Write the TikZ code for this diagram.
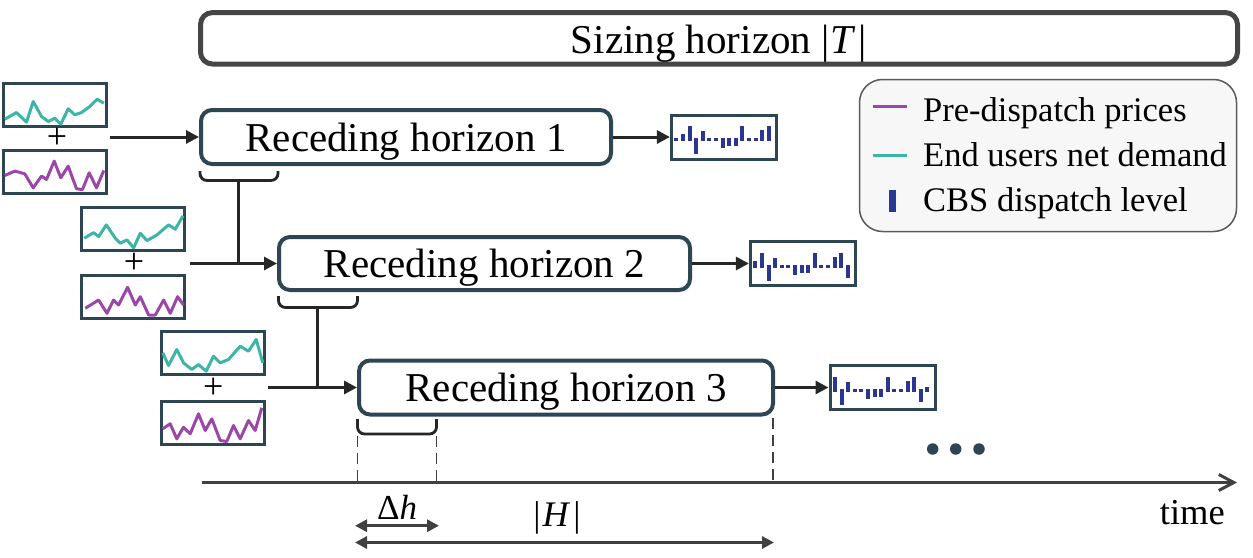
\documentclass[tikz,border=0pt]{standalone}
\usepackage{fontspec}
\setmainfont{Liberation Serif}
\usetikzlibrary{arrows.meta}
\definecolor{slate}{HTML}{2E4553}
\definecolor{cpurple}{HTML}{9B47A8}
\definecolor{cteal}{HTML}{3DB5A6}
\definecolor{cnavy}{HTML}{2B3592}
\definecolor{darkline}{HTML}{262626}
\definecolor{axisgray}{HTML}{404040}
\definecolor{framegray}{HTML}{454545}
\definecolor{legfill}{HTML}{F7F7F7}
\definecolor{legline}{HTML}{5A5A5A}
\newcommand\cbsbars[1]{%
  \foreach \v [count=\i from 0] in {#1} {
    \pgfmathsetmacro\xc{6.5+6.6*\i}
    \pgfmathsetmacro\ya{(\v)>0 ? 27.7-(\v) : 24.7}
    \pgfmathsetmacro\yb{(\v)<0 ? 24.7-(\v) : 27.7}
    \fill[cnavy] (\xc-2,\ya) rectangle (\xc+2,\yb);
  }}
\begin{document}
\begin{tikzpicture}[x=1pt,y=-1pt,
  rhbox/.style={draw=slate, line width=4pt, rounded corners=11pt, fill=white, inner sep=0pt, text height=28pt, text depth=0pt, font=\fontsize{41}{49}\selectfont},
  sizebox/.style={draw=framegray, line width=5pt, rounded corners=12pt, inner sep=0pt, text height=31pt, text depth=0pt, font=\fontsize{41}{49}\selectfont},
  chartbox/.style={draw=slate, line width=3pt, minimum width=103pt, minimum height=43pt, inner sep=0pt},
  outbox/.style={draw=slate, line width=3pt, minimum width=105pt, minimum height=44pt, inner sep=0pt},
  plussign/.style={font=\fontsize{36}{42}\selectfont, inner sep=0pt},
  conn/.style={draw=darkline, line width=3pt, -{Triangle[length=13pt,width=13pt]}},
  link/.style={draw=darkline, line width=3pt},
  bracket/.style={draw=darkline, line width=2.8pt, rounded corners=7pt},
  dimline/.style={draw=axisgray, line width=3pt, {Triangle[length=12pt,width=12pt]}-{Triangle[length=12pt,width=12pt]}},
  guide/.style={draw=axisgray, line width=1.6pt, dash pattern=on 11pt off 6pt},
  axisline/.style={draw=axisgray, line width=3pt, -{Straight Barb[length=15pt,width=16pt]}},
  tealline/.style={draw=cteal, line width=3pt, line join=round},
  purpline/.style={draw=cpurple, line width=3pt, line join=round},
  dotnode/.style={circle, fill=slate, minimum size=11.5pt, inner sep=0pt},
  legtext/.style={anchor=base west, inner sep=0pt, font=\fontsize{34.5}{41}\selectfont},
  ]
\useasboundingbox (0,0) rectangle (1253,557);

% sizing horizon
\node[sizebox, minimum width=1037pt, minimum height=51.5pt] (sz) at (719,38.3) {Sizing horizon |\kern1pt\textit{T}\kern3pt|};

% receding horizons
\node[rhbox, minimum width=410pt, minimum height=54pt] (rh1) at (406,137) {Receding horizon 1};
\node[rhbox, minimum width=411pt, minimum height=53pt] (rh2) at (484.5,263.5) {Receding horizon 2};
\node[rhbox, minimum width=414pt, minimum height=54pt] (rh3) at (566,387.5) {Receding horizon 3};

% input charts
\node[chartbox] (c1a) at (54.5,104.5) {};
\node[chartbox] (c1b) at (54.5,171.8) {};
\node[plussign] (p1) at (57,138) {+};
\node[chartbox] (c2a) at (133.3,228.9) {};
\node[chartbox] (c2b) at (133.3,297) {};
\node[plussign] (p2) at (134,263) {+};
\node[chartbox] (c3a) at (212.5,352.5) {};
\node[chartbox] (c3b) at (212.5,422.5) {};
\node[plussign] (p3) at (213.3,388.3) {+};

\begin{scope}[shift={(c1a.north west)}]
\draw[tealline] plot coordinates {(3.3,37.7) (15,31) (25,40.7) (31.7,20) (40,35) (46.7,40) (53.3,36.7) (59.3,42.7) (66.7,27.3) (73.3,33.3) (80,31) (88.3,25) (95.7,17.7) (102.3,21.7)};
\end{scope}
\begin{scope}[shift={(c1b.north west)}]
\draw[purpline] plot coordinates {(3.3,26.7) (13.3,22.3) (23.3,25) (31.7,39) (40,27.3) (45,30.7) (52.7,12.3) (59.3,29) (66.7,17.3) (75,40) (81,40.7) (87.7,24) (95,39) (102.3,21.7)};
\end{scope}
\begin{scope}[shift={(c2a.north west)}]
\draw[tealline] plot coordinates {(4,32.3) (13.3,26.7) (18.3,30.7) (26,19) (35,32.3) (40,37.3) (46.7,34) (53.3,42) (60,27.3) (66.7,34.7) (76.7,29) (88.3,19) (95,23.3) (102.7,10)};
\end{scope}
\begin{scope}[shift={(c2b.north west)}]
\draw[purpline] plot coordinates {(5,34.3) (18.3,26) (26.7,39.3) (33.3,26) (38.3,31) (47.3,13.3) (55,31) (60,22.7) (68.3,41) (75,41) (83.3,26) (90,39.3) (97.3,22.7) (103.3,31)};
\end{scope}
\begin{scope}[shift={(c3a.north west)}]
\draw[tealline] plot coordinates {(3.3,23.3) (9,36) (17.3,20) (24,33.3) (32.3,40) (39,35) (46.7,41.7) (54,26.7) (60.7,33.3) (69,30) (80.7,16.7) (89,21.7) (96.7,10) (103.3,33.3)};
\end{scope}
\begin{scope}[shift={(c3b.north west)}]
\draw[purpline] plot coordinates {(3.3,29.3) (10.7,24.3) (17.3,39.3) (24,27.7) (30.7,34.3) (39,14.3) (45.7,31) (52.3,19.3) (60.7,41) (67.3,42) (74,26) (80.7,39.3) (89,21) (95.7,31) (102.3,8.3)};
\end{scope}

% output charts
\node[outbox] (o1) at (723.9,137) {};
\node[outbox] (o2) at (802.9,263.5) {};
\node[outbox] (o3) at (882.5,387.5) {};
\begin{scope}[shift={(o1.north west)}]
\cbsbars{0,7,15,-16,10,0,0,-10,-8,-8,15,0,0,11,15}
\end{scope}
\begin{scope}[shift={(o2.north west)}]
\cbsbars{7,15,-16,10,0,0,-10,-8,-8,15,0,0,11,15,-13}
\end{scope}
\begin{scope}[shift={(o3.north west)}]
\cbsbars{15,-16,10,0,0,-10,-8,-8,15,0,0,11,15,-13,5}
\end{scope}

% input connectors
\coordinate (g1) at (110,137);
\coordinate (g2) at (190,263.5);
\coordinate (g3) at (268,387.5);
\draw[conn] (g1) -- (rh1.west);
\draw[conn] (g2) -- (rh2.west);
\draw[conn] (g3) -- (rh3.west);

% output connectors
\draw[conn] (rh1.east) -- (o1.west);
\draw[conn] (rh2.east) -- (o2.west);
\draw[conn] (rh3.east) -- (o3.west);

% brackets and links
\draw[bracket] (200,171) -- (200,180.5) -- (278,180.5) -- (278,171);
\draw[bracket] (278.5,296) -- (278.5,307.5) -- (357.5,307.5) -- (357.5,296);
\draw[bracket] (357.5,419) -- (357.5,434) -- (436.5,434) -- (436.5,419);
\coordinate (b1) at (238.5,180.5);
\coordinate (b2) at (317.5,307.5);
\draw[link] (b1) -- (b1 |- rh2.west);
\draw[link] (b2) -- (b2 |- rh3.west);

% time axis
\coordinate (t0) at (201.7,482.5);
\coordinate (t1) at (1237,482.5);
\draw[axisline] (t0) -- (t1);
\node[anchor=base east, inner sep=0pt, font=\fontsize{36.5}{43}\selectfont] (tm) at (1225,524) {time};

% guides
\coordinate (d1a) at (357.5,436);
\coordinate (d2a) at (436.5,436);
\coordinate (d3a) at (773,418);
\draw[guide] (d1a) -- (d1a |- t0);
\draw[guide] (d2a) -- (d2a |- t0);
\draw[guide] (d3a) -- (d3a |- t0);

% dimensions
\coordinate (dhl) at (355,525.7);
\coordinate (dhr) at (439,525.7);
\coordinate (hl) at (355,542.5);
\coordinate (hr) at (774,542.5);
\draw[dimline] (dhl) -- (dhr);
\draw[dimline] (hl) -- (hr);
\node[anchor=base, inner sep=0pt, font=\fontsize{35}{42}\selectfont] (dh) at (397,519) {Δ\textit{h}};
\node[anchor=base, inner sep=0pt, font=\fontsize{36}{43}\selectfont] (hh) at (557,526) {|\kern2pt\textit{H}\kern3pt|};

% dots
\node[dotnode] (dot1) at (932.7,449) {};
\node[dotnode] (dot2) at (955.7,449) {};
\node[dotnode] (dot3) at (979,449) {};

% legend
\node[draw=legline, fill=legfill, line width=1.5pt, rounded corners=23pt, minimum width=377pt, minimum height=152pt, inner sep=0pt] (leg) at (1048,155.5) {};
\draw[draw=cpurple, line width=3pt] (872.7,106.7) -- (906.7,106.7);
\draw[draw=cteal, line width=3pt] (872.7,155) -- (906.7,155);
\fill[cnavy] (889,189.5) rectangle (895.5,211.7);
\node[legtext] (l1) at (923,121.7) {Pre-dispatch prices};
\node[legtext] (l2) at (923,166.7) {End users net demand};
\node[legtext] (l3) at (923,211.7) {CBS dispatch level};
\end{tikzpicture}
\end{document}
